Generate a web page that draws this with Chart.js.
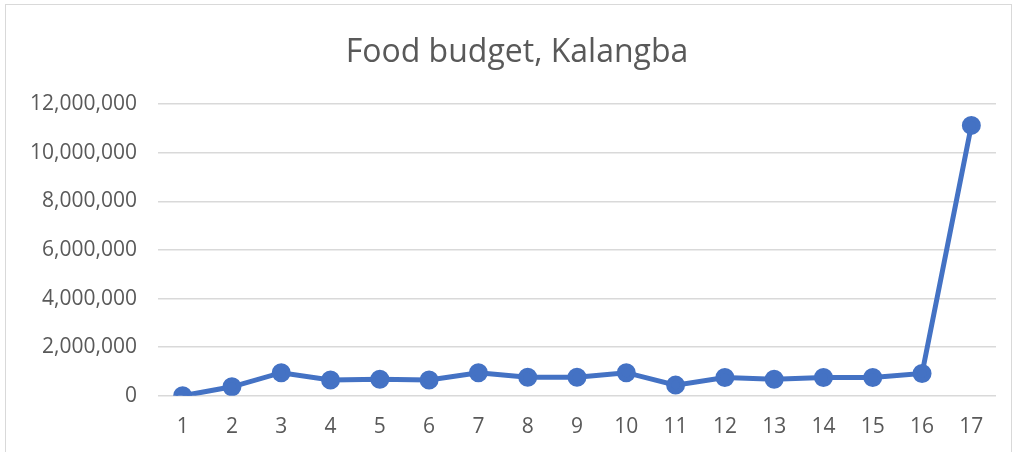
<!DOCTYPE html>
<html>
<head>
<meta charset="utf-8">
<script src="https://cdn.jsdelivr.net/npm/chart.js@4"></script>
<style>
  body { margin: 0; background: #fff; }
  #frame {
    position: absolute; left: 5px; top: 4px;
    width: 1007px; height: 460px;
    border: 1px solid #d9d9d9; box-sizing: border-box;
  }
  #wrap { position: absolute; left: 0; top: 0; width: 1015px; height: 452px; }
  #title {
    position: absolute; left: 0; top: 31px; width: 1034px;
    text-align: center; font: 32px/38px "Open Sans", sans-serif; color: #595959;
  }
</style>
</head>
<body>
<div id="frame"></div>
<div id="wrap"><canvas id="chartFood"></canvas></div>
<div id="title">Food budget, Kalangba</div>
<script>
const categories = ['1','2','3','4','5','6','7','8','9','10','11','12','13','14','15','16','17'];
const budget = [0, 370000, 950000, 650000, 680000, 650000, 950000, 760000, 760000, 950000, 440000, 750000, 680000, 750000, 750000, 920000, 11120000];
const yTicks = [0, 2000000, 4000000, 6000000, 8000000, 10000000, 12000000];

const textColor = '#595959';
const fontFamily = '"Open Sans", sans-serif';

const ctx = document.getElementById('chartFood').getContext('2d');
new Chart(ctx, {
    type: 'line',
    data: {
        labels: categories,
        datasets: [{
            label: 'Food budget',
            data: budget,
            borderColor: '#4472C4',
            backgroundColor: '#4472C4',
            borderWidth: 5,
            pointRadius: 7,
            pointHoverRadius: 7,
            tension: 0
        }]
    },
    options: {
        responsive: true,
        maintainAspectRatio: false,
        animation: false,
        layout: { padding: { left: 12, right: 19, top: 104, bottom: 1 } },
        plugins: {
            legend: { display: false },
            tooltip: { enabled: false },
            title: { display: false }
        },
        scales: {
            x: {
                offset: true,
                grid: { display: false },
                border: { display: false },
                ticks: {
                    color: textColor,
                    font: { family: fontFamily, size: 21 },
                    padding: 11,
                    maxRotation: 0
                }
            },
            y: {
                min: 0,
                max: 12000000,
                afterBuildTicks: function(axis) {
                    axis.ticks = yTicks.map(v => ({ value: v }));
                },
                afterFit: function(axis) {
                    axis.width = 146; // labels end near x=137 like the original
                },
                grid: { color: '#d9d9d9', lineWidth: 1.5, drawTicks: false },
                border: { display: false },
                ticks: {
                    color: textColor,
                    font: { family: fontFamily, size: 21 },
                    padding: 21,
                    callback: v => v.toLocaleString('en-US')
                }
            }
        }
    }
});
</script>
</body>
</html>
